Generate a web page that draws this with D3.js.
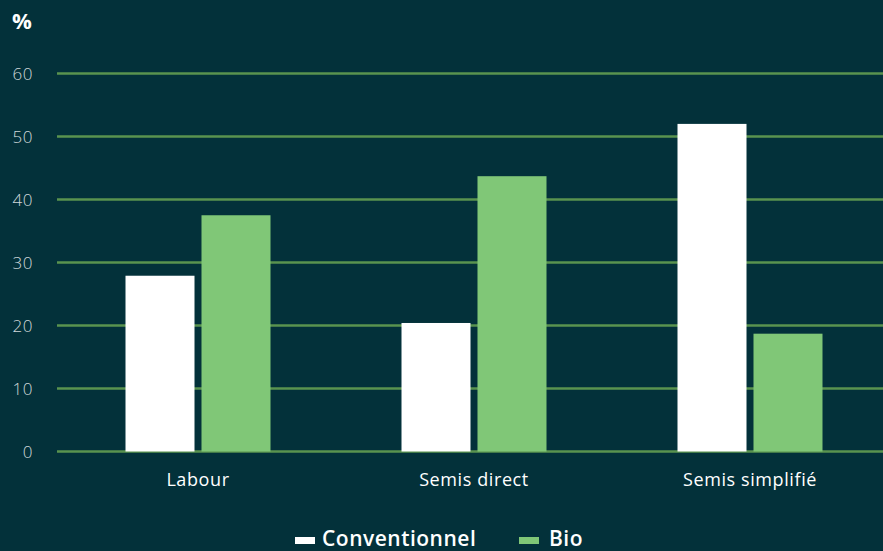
<!DOCTYPE html>
<html>
<head>
<meta charset="utf-8">
<script src="https://cdn.jsdelivr.net/npm/d3@7"></script>
<style>
  body { margin: 0; background: #03313a; }
  svg { display: block; font-family: "Open Sans", "Lato", sans-serif; }
</style>
</head>
<body>
<div id="chart"></div>
<script>
const categories = ["Labour", "Semis direct", "Semis simplifié"];
const seriesNames = ["Conventionnel", "Bio"];
const conventionnel = [27.9, 20.4, 52.0];
const bio = [37.5, 43.7, 18.7];
const yTicks = [0, 10, 20, 30, 40, 50, 60];

const width = 883, height = 551;
const colors = { Conventionnel: "#ffffff", Bio: "#80c777" };

let data = categories.map((c, i) => ({ cat: c, Conventionnel: conventionnel[i], Bio: bio[i] }));

let svg = d3.select("#chart")
    .append("svg")
        .attr("width", width)
        .attr("height", height);

svg.append("rect").attr("width", width).attr("height", height).attr("fill", "#03313a");

let y = d3.scaleLinear().domain([0, 60]).range([451.5, 73.5]);
let x0 = d3.scaleBand().domain(categories).range([60, 888]);
let x1 = d3.scaleBand().domain(seriesNames).range([0, 145]).paddingInner(0.092);

// grid
svg.append("g")
    .selectAll("line")
    .data(yTicks)
    .enter()
    .append("line")
    .attr("x1", 57)
    .attr("x2", width)
    .attr("y1", d => y(d))
    .attr("y2", d => y(d))
    .attr("stroke", "#5a934f")
    .attr("stroke-width", 2.5);

// y labels
svg.append("g")
    .selectAll("text")
    .data(yTicks)
    .enter()
    .append("text")
    .attr("x", 33)
    .attr("y", d => y(d) + 6)
    .attr("text-anchor", "end")
    .attr("fill", "#d0d8d9")
    .style("font-size", "17px")
    .style("font-weight", 300)
    .style("letter-spacing", "0.5px")
    .text(d => d);

svg.append("text")
    .attr("x", 12)
    .attr("y", 29)
    .attr("fill", "#ffffff")
    .style("font-size", "22px")
    .style("font-weight", 700)
    .text("%");

// bars
let groups = svg.append("g")
    .selectAll("g")
    .data(data)
    .enter()
    .append("g")
    .attr("transform", d => "translate(" + (x0(d.cat) + x0.bandwidth() / 2 - 72.5) + ",0)");

groups.selectAll("rect")
    .data(d => seriesNames.map(k => ({ key: k, value: d[k] })))
    .enter()
    .append("rect")
    .attr("x", d => x1(d.key))
    .attr("y", d => y(d.value))
    .attr("width", x1.bandwidth())
    .attr("height", d => y(0) - y(d.value))
    .attr("fill", d => colors[d.key]);

// x labels
svg.append("g")
    .selectAll("text")
    .data(categories)
    .enter()
    .append("text")
    .attr("x", d => x0(d) + x0.bandwidth() / 2)
    .attr("y", 486)
    .attr("text-anchor", "middle")
    .attr("fill", "#ffffff")
    .style("font-size", "18px")
    .style("letter-spacing", "0.6px")
    .text(d => d);

// legend
let legendX = [295, 519];
let legend = svg.append("g")
    .selectAll("g")
    .data(seriesNames)
    .enter()
    .append("g")
    .attr("transform", (d, i) => "translate(" + legendX[i] + ",0)");

legend.append("rect")
    .attr("x", 0)
    .attr("y", 537)
    .attr("width", 20)
    .attr("height", 7)
    .attr("fill", d => colors[d]);

legend.append("text")
    .attr("x", d => d === "Bio" ? 30 : 27)
    .attr("y", 546)
    .attr("fill", "#ffffff")
    .style("font-size", "21px")
    .style("font-weight", 600)
    .style("letter-spacing", "0.5px")
    .text(d => d);
</script>
</body>
</html>
